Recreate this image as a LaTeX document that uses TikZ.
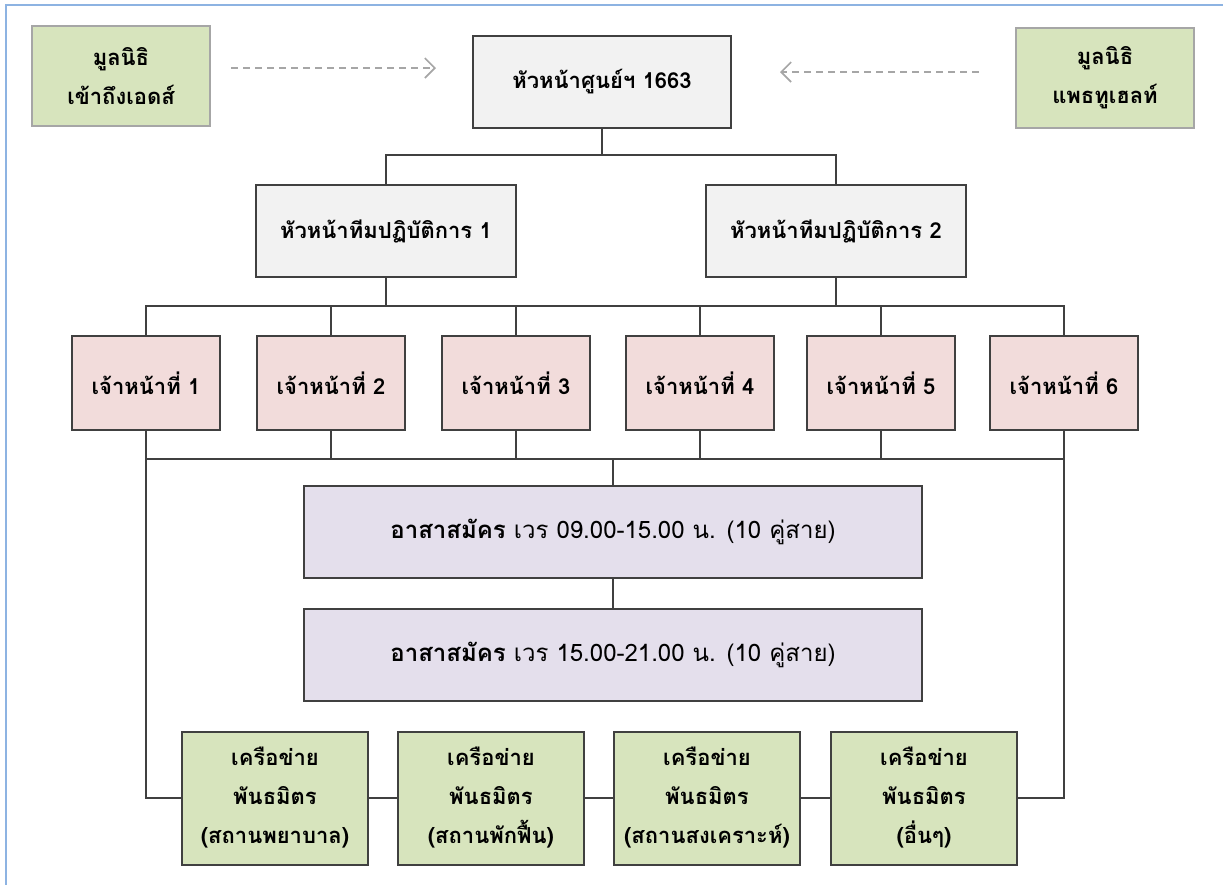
\documentclass[tikz,border=0pt]{standalone}
\usepackage{fontspec}
\newfontfamily\thaifont[Script=Thai]{Loma}
\usetikzlibrary{arrows.meta}

\begin{document}
\begin{tikzpicture}[x=0.5pt,y=-0.5pt,
  every node/.style={font=\thaifont\bfseries\fontsize{11}{19.5}\selectfont,
    align=center, inner sep=0pt},
  box/.style={draw=black!75, line width=1pt},
  greenbox/.style={box, fill={rgb,255:red,215;green,228;blue,189}},
  graybox/.style={box, fill={rgb,255:red,242;green,242;blue,242}},
  pinkbox/.style={box, fill={rgb,255:red,242;green,220;blue,219},
    minimum width=74pt, minimum height=47pt},
  lilacbox/.style={box, fill={rgb,255:red,228;green,223;blue,236},
    minimum width=309pt, minimum height=46pt,
    font=\thaifont\bfseries\fontsize{12}{19}\selectfont},
  netbox/.style={greenbox, minimum width=93pt, minimum height=66.5pt},
  link/.style={draw=black!75, line width=1pt},
  dasharrow/.style={draw=black!35, line width=0.8pt, dash pattern=on 3.5pt off 2.5pt,
    -{Straight Barb[length=5pt,width=10pt,line width=0.8pt]}}]
  \useasboundingbox (0,0) rectangle (1223,885);
  \draw[draw={rgb,255:red,141;green,179;blue,226}, line width=1pt]
    (6,885) -- (6,5) -- (1223,5);

  % top row
  \node[greenbox, draw=black!35, minimum width=89pt, minimum height=50pt]
    (fdnL) at (121,76) {มูลนิธิ\\เข้าถึงเอดส์};
  \node[graybox, minimum width=129pt, minimum height=46pt]
    (head) at (602,82) {หัวหน้าศูนย์ฯ 1663};
  \node[greenbox, draw=black!35, minimum width=89pt, minimum height=50pt]
    (fdnR) at (1105,78) {มูลนิธิ\\แพธทูเฮลท์};
  \draw[dasharrow, shorten <=10pt, shorten >=18pt]
    ([yshift=4pt]fdnL.east) -- ([yshift=4pt]fdnL.east -| head.west);
  \draw[dasharrow, shorten <=18pt, shorten >=24pt]
    ([yshift=3pt]fdnR.west) -- ([yshift=3pt]fdnR.west -| head.east);

  % team leaders
  \node[graybox, minimum width=130pt, minimum height=46pt]
    (team1) at (386,231) {หัวหน้าทีมปฏิบัติการ 1};
  \node[graybox, minimum width=130pt, minimum height=46pt]
    (team2) at (836,231) {หัวหน้าทีมปฏิบัติการ 2};
  \coordinate (bus1) at (602,155);
  \draw[link] (head.south) -- (bus1);
  \draw[link] (team1.north) |- (bus1) -| (team2.north);

  % staff
  \foreach \n/\xpos in {1/146,2/331,3/516,4/700,5/881,6/1064}
    \node[pinkbox] (staff\n) at (\xpos,383) {เจ้าหน้าที่ \n};
  \coordinate (bus2) at (602,306);
  \coordinate (bus3) at (613,459);
  \draw[link] (staff1.north) |- (bus2) -| (staff6.north);
  \foreach \n in {2,...,5}
    \draw[link] (staff\n.north) -- (staff\n.north |- bus2);
  \draw[link] (team1.south) -- (team1.south |- bus2);
  \draw[link] (team2.south) -- (team2.south |- bus2);
  \draw[link] (staff1.south |- bus3) -- (staff6.south |- bus3);
  \foreach \n in {2,...,5}
    \draw[link] (staff\n.south) -- (staff\n.south |- bus3);

  % volunteers
  \node[lilacbox] (shift1) at (613,532)
    {อาสาสมัคร \mdseries เวร 09.00-15.00 น. (10 คู่สาย)};
  \node[lilacbox] (shift2) at (613,655)
    {อาสาสมัคร \mdseries เวร 15.00-21.00 น. (10 คู่สาย)};
  \draw[link] (shift1.north) -- (shift1.north |- bus3);
  \draw[link] (shift1.south) -- (shift2.north);

  % partner networks
  \foreach \n/\xpos/\place in {1/275/สถานพยาบาล,2/491/สถานพักฟื้น,
      3/707/สถานสงเคราะห์,4/924/อื่นๆ}
    \node[netbox] (net\n) at (\xpos,798) {เครือข่าย\\พันธมิตร\\(\place)};
  \draw[link] (staff1.south) |- (net1.west);
  \draw[link] (staff6.south) |- (net4.east);
  \foreach \a/\b in {1/2,2/3,3/4}
    \draw[link] (net\a.east) -- (net\b.west);
\end{tikzpicture}
\end{document}
